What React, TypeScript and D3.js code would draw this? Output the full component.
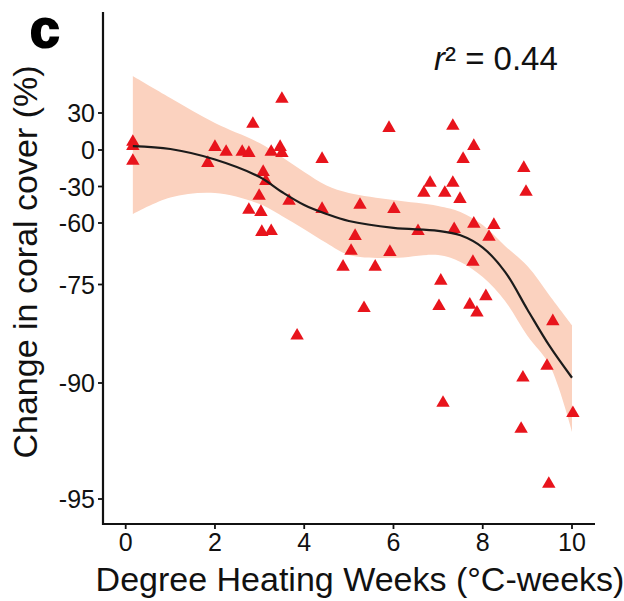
import React from "react";
import * as d3 from "d3";

const dhw = [0.16,0.16,0.16,1.84,2.0,2.25,2.61,2.76,2.85,3.08,3.14,2.99,2.76,3.03,3.05,3.26,3.26,3.46,3.5,3.5,3.66,3.84,4.4,4.4,4.87,5.05,5.14,5.25,5.34,5.59,5.9,5.92,6.01,6.55,6.68,6.82,7.06,7.02,7.11,7.15,7.33,7.33,7.36,7.49,7.56,7.71,7.78,7.8,7.8,7.87,8.07,8.14,8.25,8.86,8.9,8.92,8.97,9.44,9.48,9.57,10.02];
const change = [6.5,3.2,-9.0,-10.7,2.4,-1.6,-1.6,-2.5,21.1,-18.1,-25.5,-37.8,-49.3,-51.0,-62.2,-62.0,-1.6,2.4,-2.5,41.4,-41.9,-82.8,-7.4,-48.5,-70.7,-66.8,-63.2,-45.2,-78.6,-70.7,17.8,-67.1,-48.5,-62.0,-35.3,-27.1,-74.1,-78.3,-90.86,-35.3,19.5,-27.1,-61.5,-40.3,-7.4,-78.1,-69.5,3.2,-60.2,-79.3,-76.8,-63.4,-60.5,-91.98,-89.2,-14.8,-34.5,-87.4,-94.35,-80.6,-91.3];

const fitX = [0.16,1,2,3,3.5,4,4.5,5,6,7,7.5,8,8.5,9,9.5,10];
const fitY = [3.2,0.8,-7.8,-22.2,-34.5,-45.2,-52.6,-58.4,-61.2,-61.9,-63.0,-66.0,-71.9,-78.8,-84.4,-89.2];
const fitUpper = [60.0,42.2,21.9,5.7,-5.8,-18.1,-29.2,-35.3,-41.1,-46.0,-51.0,-60.5,-65.6,-70.5,-76.7,-81.2];
const fitLower = [-52.6,-39.0,-35.3,-44.4,-54.2,-61.5,-64.9,-67.8,-68.5,-67.8,-69.5,-73.2,-77.5,-82.8,-87.3,-92.1];

const xTicks = [0,2,4,6,8,10];
const yTicks = [30,0,-30,-60,-75,-90,-95];

const W = 624, H = 601;
const FONT = "'Liberation Sans', Arial, sans-serif";

export default function App() {
  const x = d3.scaleLinear().domain([0,10]).range([125.7,572]);
  const y = d3.scaleLinear().domain(yTicks).range([113,150,186.5,223,284.5,383,499]);
  const axL = 103, axR = 595, axT = 12, axB = 524;

  const band = fitX.map((v,i)=>({x:v, lo:fitLower[i], hi:fitUpper[i], f:fitY[i]}));
  const area = d3.area<any>().x(d=>x(d.x)).y0(d=>y(d.lo)).y1(d=>y(d.hi)).curve(d3.curveCatmullRom.alpha(0.5));
  const line = d3.line<any>().x(d=>x(d.x)).y(d=>y(d.f)).curve(d3.curveCatmullRom.alpha(0.5));
  const tri = d3.symbol().type(d3.symbolTriangle).size(78)();

  return (
    <svg width={W} height={H} style={{position:"absolute",left:0,top:0,background:"#fff"}} fontFamily={FONT}>
      <path d={area(band) || ""} fill="#FBD2BF" />
      {dhw.map((v,i)=>(
        <path key={i} d={tri || ""} transform={`translate(${x(v)},${y(change[i])})`} fill="#E8141C" />
      ))}
      <path d={line(band) || ""} fill="none" stroke="#1b1b1b" strokeWidth={2.2} />
      <line x1={axL} x2={axL} y1={axT} y2={axB+1} stroke="#111" strokeWidth={2.2} />
      <line x1={axL-1} x2={axR} y1={axB} y2={axB} stroke="#111" strokeWidth={2.2} />
      {yTicks.map(t=>(
        <g key={t}>
          <line x1={axL-5} x2={axL} y1={y(t)} y2={y(t)} stroke="#111" strokeWidth={1.8} />
          <text x={axL-8} y={y(t)} dy="0.36em" textAnchor="end" fontSize={25} fill="#111">{t}</text>
        </g>
      ))}
      {xTicks.map(t=>(
        <g key={t}>
          <line x1={x(t)} x2={x(t)} y1={axB} y2={axB+5} stroke="#111" strokeWidth={1.8} />
          <text x={x(t)} y={551} textAnchor="middle" fontSize={25} fill="#111">{t}</text>
        </g>
      ))}
      <text x={360} y={591} textAnchor="middle" fontSize={34} fill="#111">Degree Heating Weeks (°C-weeks)</text>
      <text transform={`translate(37,262) rotate(-90)`} textAnchor="middle" fontSize={34} fill="#111">Change in coral cover (%)</text>
      <text x={30} y={47} fontSize={53} fontWeight={900} fill="#000" stroke="#000" strokeWidth={2.2}>c</text>
      <text x={434} y={70} fontSize={33} fill="#111"><tspan fontStyle="italic">r</tspan>² = 0.44</text>
    </svg>
  );
}
